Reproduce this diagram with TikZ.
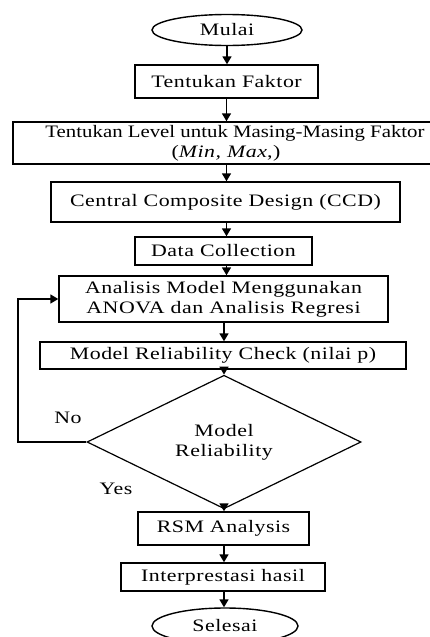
\documentclass[tikz,border=0pt]{standalone}
\usepackage{fontspec}
\setmainfont[FakeStretch=1.25,LetterSpace=3]{Liberation Serif}
\newfontfamily\levelfont[FakeStretch=1.19]{Liberation Serif}
\usetikzlibrary{shapes.geometric,arrows.meta}
\tikzset{
  procbox/.style={draw, line width=1.4pt, rectangle, inner sep=0pt, align=center, font=\fontsize{17.5}{20}\selectfont},
  termnode/.style={draw, line width=1.4pt, ellipse, inner sep=0pt, font=\fontsize{17.5}{20}\selectfont},
  decnode/.style={draw, line width=1.2pt, diamond, inner sep=0pt, align=center, font=\fontsize{17.5}{20}\selectfont},
  lbl/.style={inner sep=0pt, font=\fontsize{17.5}{20}\selectfont},
  arr/.style={line width=1.6pt, -{Triangle[length=8pt,width=9pt]}},
}
\begin{document}
\begin{tikzpicture}[x=1pt,y=-1pt]
\useasboundingbox (0,0) rectangle (430,637);
\node[termnode, minimum width=150pt, minimum height=31pt] (start) at (227,30) {Mulai};
\node[procbox, minimum width=183pt, minimum height=33pt] (faktor) at (226.5,81.5) {Tentukan Faktor};
\node[procbox, minimum width=426pt, minimum height=42pt] (level) at (226,143)
  {\levelfont\hspace*{18pt}Tentukan Level untuk Masing-Masing Faktor\\(\textit{Min, Max},)};
\node[procbox, minimum width=349pt, minimum height=40pt] (ccd) at (225.5,202) {Central Composite Design (CCD)};
\node[procbox, minimum width=177pt, minimum height=28pt] (data) at (223.5,251) {Data Collection};
\node[procbox, minimum width=329pt, minimum height=46pt] (ana) at (223.5,299) {Analisis Model Menggunakan\\ANOVA dan Analisis Regresi};
\node[procbox, minimum width=366pt, minimum height=27pt] (check) at (223,355.5) {Model Reliability Check (nilai p)};
\node[decnode, minimum width=274pt, minimum height=101pt] (dec) at (224,442) {Model\\Reliability};
\node[procbox, minimum width=171pt, minimum height=33pt] (rsm) at (223.5,528.5) {RSM Analysis};
\node[procbox, minimum width=204pt, minimum height=28pt] (interp) at (223,577) {Interprestasi hasil};
\node[termnode, minimum width=146pt, minimum height=36pt] (stop) at (225,626) {Selesai};

\node[lbl] (no) at (68,418) {No};
\node[lbl] (yes) at (116,489) {Yes};

\draw[arr] (start.south) -- (start.south |- faktor.north);
\draw[arr] (faktor.south) -- (faktor.south |- level.north);
\draw[arr] (faktor.south |- level.south) -- (faktor.south |- ccd.north);
\draw[arr] (faktor.south |- ccd.south) -- (faktor.south |- data.north);
\draw[arr] (faktor.south |- data.south) -- (faktor.south |- ana.north);
\draw[arr] (dec.north |- ana.south) -- (dec.north |- check.north);
\draw[arr] (dec.north |- check.south) -- (dec.north);
\draw[arr] (dec.south) -- (dec.south |- rsm.north);
\draw[arr] (dec.south |- rsm.south) -- (dec.south |- interp.north);
\draw[arr] (dec.south |- interp.south) -- (dec.south |- stop.north);

\coordinate (loopx) at (18,442);
\draw[arr] (dec.west) -- (loopx) |- (ana.west);
\end{tikzpicture}
\end{document}
